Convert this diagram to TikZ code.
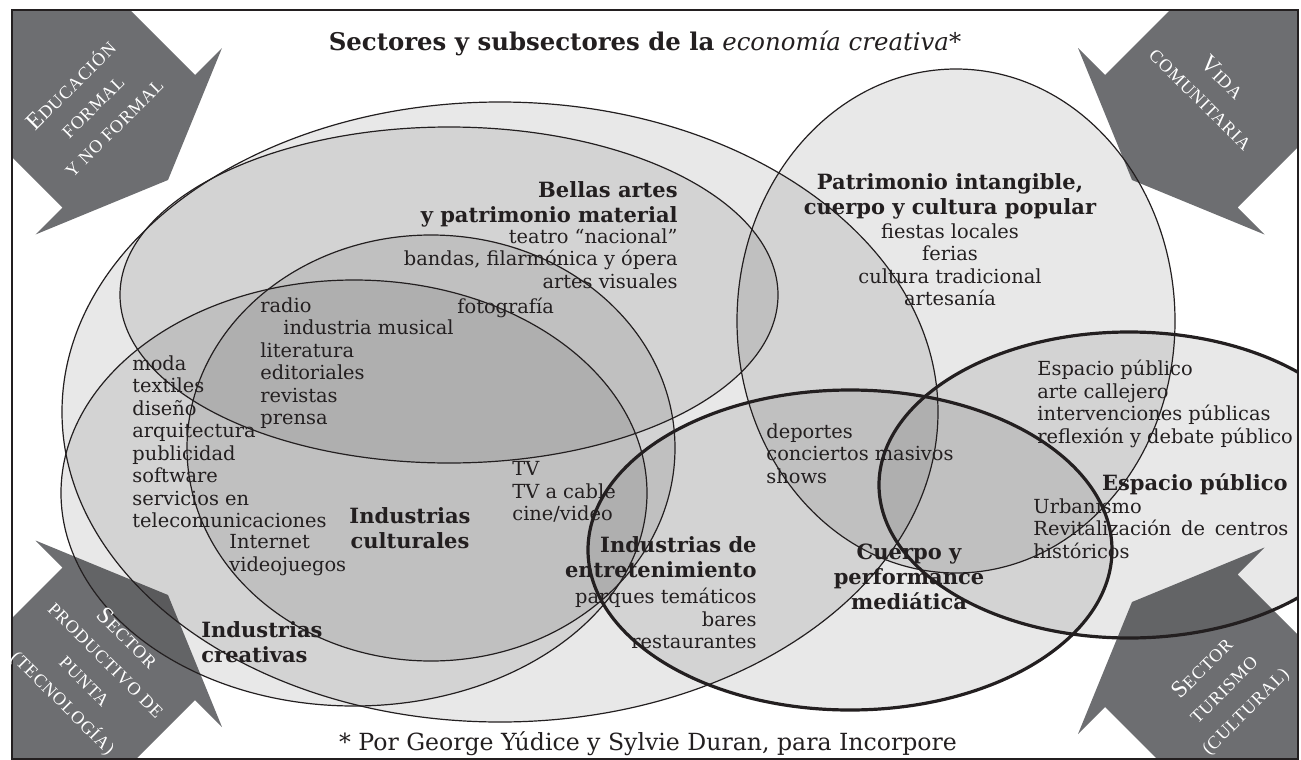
\documentclass[tikz,border=0pt]{standalone}
\usepackage{fontspec}
\setmainfont{DejaVu Serif}
\newfontfamily\capsfont[LetterSpace=5]{Liberation Serif}
\usepackage{xcolor}
\usepackage{tikz}

\definecolor{arrowgray}{HTML}{6D6E71}
\definecolor{ink}{HTML}{231F20}
\newcommand{\smcap}[2]{{\fontsize{12}{15}\selectfont #1}#2}
\def\arrowpath{(-20,-20) -- (100,-20) -- (195,75) -- (222,48) -- (168,180) -- (35.5,234.5) -- (62.5,207.5) -- (-20,125) -- cycle}

\begin{document}
\begin{tikzpicture}[x=0.5pt,y=-0.5pt,
  every node/.style={inner sep=0pt,text=ink},
  venn/.style={fill=black,fill opacity=0.09},
  thinline/.style={line width=0.6pt,ink},
  thickline/.style={line width=1.6pt,ink},
  head/.style={font=\fontsize{10.5}{12.5}\selectfont\bfseries},
  body/.style={font=\fontsize{9.7}{11.25}\selectfont},
  caps/.style={font=\capsfont\fontsize{9}{15}\selectfont,text=white,align=center}]
\useasboundingbox (0,0) rectangle (1301,760);

\begin{scope}
\clip (12,10) rectangle (1298,759);
\fill[arrowgray] \arrowpath;
\begin{scope}[shift={(1300,0)},xscale=-1]
\fill[arrowgray] \arrowpath;
\end{scope}
\begin{scope}[shift={(0,775)},yscale=-1]
\fill[arrowgray] \arrowpath;
\end{scope}
\begin{scope}[shift={(1300,782)},scale=-1]
\fill[arrowgray] \arrowpath;
\end{scope}
\foreach \cx/\cy/\rx/\ry in {500/412/438/310, 449/295/329/168, 354/493/293/213,
  431/448/244/213, 956/321/219/252, 850/550/262/160, 1129/485/250/153}
  \path[venn] (\cx,\cy) ellipse [x radius=\rx, y radius=\ry];
\foreach \cx/\cy/\rx/\ry in {500/412/438/310, 449/295/329/168, 354/493/293/213,
  431/448/244/213, 956/321/219/252}
  \draw[thinline] (\cx,\cy) ellipse [x radius=\rx, y radius=\ry];
\draw[thickline] (850,550) ellipse [x radius=262, y radius=160];
\draw[thickline] (1129,485) ellipse [x radius=250, y radius=153];
\end{scope}
\draw[line width=1pt,ink] (12,10) rectangle (1298,759);

\node (educacion) [caps,rotate=45] at (92,106) {\smcap{E}{DUCACIÓN}\\FORMAL\\Y NO FORMAL};
\node (vida) [caps,rotate=-45] at (1212,88) {\smcap{V}{IDA}\\COMUNITARIA};
\node (productivo) [caps,rotate=-45] at (95,671) {\smcap{S}{ECTOR}\\PRODUCTIVO DE\\PUNTA\\(TECNOLOGÍA)};
\node (turismo) [caps,rotate=45] at (1224,690) {\smcap{S}{ECTOR}\\TURISMO\\(CULTURAL)};

\node (title) [anchor=base,font=\fontsize{12.2}{14}\selectfont] at (645,50) {\textbf{Sectores y subsectores de la} \textit{economía creativa*}};
\node (foot) [anchor=base,font=\fontsize{11.8}{13}\selectfont] at (648,750) {* Por George Yúdice y Sylvie Duran, para Incorpore};

\node (bellas) [head,anchor=north east,align=right] at (678,181) {Bellas artes\\y patrimonio material};
\node (bellaslist) [body,anchor=north east,align=right] at (678,228) {teatro “nacional”\\bandas, filarmónica y ópera\\artes visuales};
\node (foto) [body,anchor=base west] at (457,313) {fotografía};
\node (culturaleslist) [body,anchor=north west,align=left] at (260,297) {radio\\\hspace*{11.5pt}industria musical\\literatura\\editoriales\\revistas\\prensa};
\node (creativaslist) [body,anchor=north west,align=left] at (132,355) {moda\\textiles\\diseño\\arquitectura\\publicidad\\software\\servicios en\\telecomunicaciones};
\node (digital) [body,anchor=north west,align=left] at (229,534) {Internet\\videojuegos};
\node (culturales) [head,anchor=north,align=center] at (410,507) {Industrias\\culturales};
\node (tv) [body,anchor=north west,align=left] at (512,461) {TV\\TV a cable\\cine/video};
\node (entret) [head,anchor=north east,align=right] at (757,536) {Industrias de\\entretenimiento};
\node (entretlist) [body,anchor=north east,align=right] at (757,588) {parques temáticos\\bares\\restaurantes};
\node (creativas) [head,anchor=north west,align=left] at (201,621) {Industrias\\creativas};
\node (patrimonio) [head,anchor=north,align=center] at (950,173) {Patrimonio intangible,\\cuerpo y cultura popular};
\node (patrimoniolist) [body,anchor=north,align=center] at (950,223) {fiestas locales\\ferias\\cultura tradicional\\artesanía};
\node (masivos) [body,anchor=north west,align=left] at (766,423) {deportes\\conciertos masivos\\shows};
\node (cuerpo) [head,anchor=north,align=center] at (909,544) {Cuerpo y\\performance\\mediática};
\node (espaciolist) [body,anchor=north west,align=left] at (1037,360) {Espacio público\\arte callejero\\intervenciones públicas\\reflexión y debate público};
\node (espacio) [head,anchor=base east] at (1288,490) {Espacio público};
\node (urbano) [body,anchor=north west,align=left] at (1033,498) {Urbanismo\\\hbox to 127.5pt{Revitalización\hfill de\hfill centros}\\históricos};
\end{tikzpicture}
\end{document}
